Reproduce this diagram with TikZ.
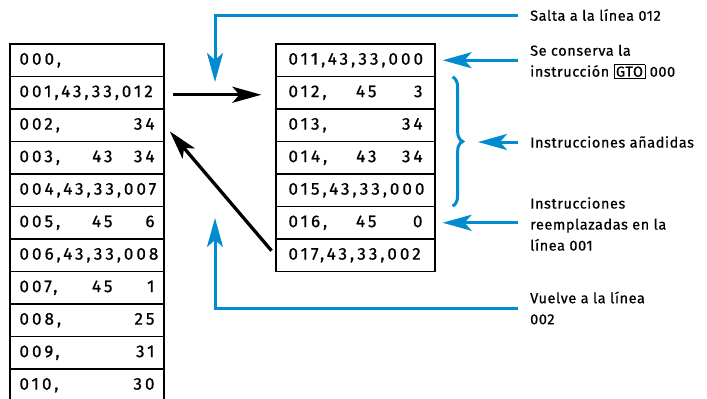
\documentclass[tikz,border=0pt]{standalone}
\usepackage{fontspec}
\setmainfont[LetterSpace=4,FakeBold=0.6]{Fira Sans}
\newfontfamily\tabfont[LetterSpace=18,FakeBold=0.8]{Fira Sans}
\usetikzlibrary{arrows.meta,calc,decorations.pathreplacing}
\definecolor{hpblue}{RGB}{0,140,206}
\newcommand\lrow[3]{\hbox to 135pt{#1\hfill#2\hbox to 42pt{\hfill#3}}}
\newcommand\rrow[3]{\hbox to 134pt{#1\hfill#2\hbox to 46pt{\hfill#3}}}
\setlength\fboxsep{1.5pt}
\setlength\fboxrule{0.8pt}
\begin{document}
\begin{tikzpicture}[x=1pt,y=-1pt,
  lcell/.style={draw, line width=1.2pt, minimum width=154pt, minimum height=32.5pt, inner sep=0pt, font=\tabfont\fontsize{17}{18}\selectfont},
  rcell/.style={lcell, minimum width=159pt},
  note/.style={anchor=west, align=left, inner xsep=12pt, inner ysep=0pt, font=\fontsize{14.5}{21}\selectfont},
  hp/.style={hpblue, line width=3pt},
  jmp/.style={black, line width=3.3pt},
  tip/.style={-{Stealth[length=29pt,width=16pt,inset=7pt]}}]
\useasboundingbox (0,0) rectangle (707,399);
% programa original
\node[lcell] (l0) at (87,60.25){\lrow{000,}{}{}};
\node[lcell] (l1) at (87,92.75){\lrow{001,43,33,012}{}{}};
\node[lcell] (l2) at (87,125.25){\lrow{002,}{}{34}};
\node[lcell] (l3) at (87,157.75){\lrow{003,}{43}{34}};
\node[lcell] (l4) at (87,190.25){\lrow{004,43,33,007}{}{}};
\node[lcell] (l5) at (87,222.75){\lrow{005,}{45}{6}};
\node[lcell] (l6) at (87,255.25){\lrow{006,43,33,008}{}{}};
\node[lcell] (l7) at (87,287.75){\lrow{007,}{45}{1}};
\node[lcell] (l8) at (87,320.25){\lrow{008,}{}{25}};
\node[lcell] (l9) at (87,352.75){\lrow{009,}{}{31}};
\node[lcell] (l10) at (87,385.25){\lrow{010,}{}{30}};
% subrutina
\node[rcell] (r0) at (355.5,60.25){\rrow{011,43,33,000}{}{}};
\node[rcell] (r1) at (355.5,92.75){\rrow{012,}{45}{3}};
\node[rcell] (r2) at (355.5,125.25){\rrow{013,}{}{34}};
\node[rcell] (r3) at (355.5,157.75){\rrow{014,}{43}{34}};
\node[rcell] (r4) at (355.5,190.25){\rrow{015,43,33,000}{}{}};
\node[rcell] (r5) at (355.5,222.75){\rrow{016,}{45}{0}};
\node[rcell] (r6) at (355.5,255.25){\rrow{017,43,33,002}{}{}};
% saltos
\draw[jmp, tip, shorten <=8pt, shorten >=14pt]($(l1.east)+(0,2)$) -- ($(r1.west)+(0,2)$);
\draw[jmp, tip, shorten <=6pt, shorten >=8pt](r6.west) -- (l2.east);
% notas
\node[note] (salta) at (518,15){Salta a la línea 012};
\node[note] (conserva) at (518,62){Se conserva la\\instrucción \fbox{GTO} 000};
\node[note] (added) at (518,142){Instrucciones añadidas};
\node[note] (replaced) at (518,224){Instrucciones\\reemplazadas en la\\línea 001};
\node[note] (back) at (518,308){Vuelve a la línea\\002};
\coordinate (jump) at (215,82);
\coordinate (ret) at (215,218);
\coordinate (btip) at (466,142);
\draw[hp, tip](salta.west) -| (jump);
\draw[hp, tip, shorten >=7pt](conserva.west |- r0.east) -- (r0.east);
\draw[hp, tip, shorten >=12pt](added.west) -- (btip);
\draw[hp, tip, shorten >=7pt](replaced.west |- r5.east) -- (r5.east);
\draw[hp, tip](back.west) -| (ret);
\draw[hp, decorate, decoration={brace, amplitude=10pt}]($(r1.north east)+(17,1)$) -- ($(r4.south east)+(17,-1)$);
\end{tikzpicture}
\end{document}
